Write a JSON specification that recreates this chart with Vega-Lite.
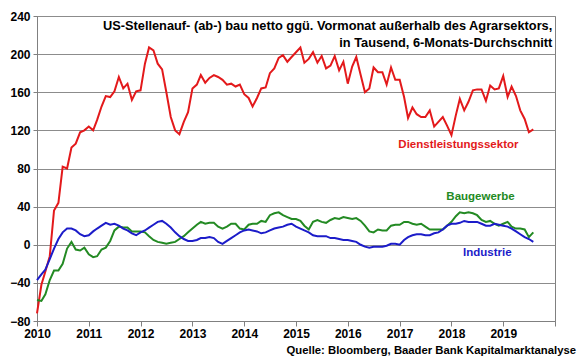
{
  "$schema": "https://vega.github.io/schema/vega-lite/v6.json",
  "autosize": "none",
  "width": 518,
  "height": 305,
  "padding": {"left": 37, "top": 16, "right": 25, "bottom": 38},
  "background": "white",
  "config": {
    "font": "Liberation Sans",
    "view": {"stroke": "#808080", "strokeWidth": 1},
    "axis": {"labelFont": "Liberation Sans", "labelFontSize": 12, "labelFontWeight": "bold", "labelColor": "#000000", "domainColor": "#808080", "tickColor": "#808080", "gridColor": "#8c8c8c", "gridWidth": 1, "title": null},
    "title": {"font": "Liberation Sans", "fontSize": 11.3, "fontWeight": "bold", "color": "#000000"}
  },
  "title": {"text": "Quelle: Bloomberg, Baader Bank Kapitalmarktanalyse", "orient": "bottom", "anchor": "end", "frame": "group", "dx": 21, "offset": 6},
  "datasets": {
    "series": [
      {"m":"2010-01","s":"D","v":-72},{"m":"2010-02","s":"D","v":-42},{"m":"2010-03","s":"D","v":-28},{"m":"2010-04","s":"D","v":-12},{"m":"2010-05","s":"D","v":36},{"m":"2010-06","s":"D","v":44},{"m":"2010-07","s":"D","v":82},{"m":"2010-08","s":"D","v":80},{"m":"2010-09","s":"D","v":102},{"m":"2010-10","s":"D","v":106},{"m":"2010-11","s":"D","v":118},{"m":"2010-12","s":"D","v":120},
      {"m":"2011-01","s":"D","v":124},{"m":"2011-02","s":"D","v":120},{"m":"2011-03","s":"D","v":131},{"m":"2011-04","s":"D","v":145},{"m":"2011-05","s":"D","v":156},{"m":"2011-06","s":"D","v":155},{"m":"2011-07","s":"D","v":161},{"m":"2011-08","s":"D","v":176},{"m":"2011-09","s":"D","v":164},{"m":"2011-10","s":"D","v":169},{"m":"2011-11","s":"D","v":152},{"m":"2011-12","s":"D","v":161},
      {"m":"2012-01","s":"D","v":162},{"m":"2012-02","s":"D","v":190},{"m":"2012-03","s":"D","v":207},{"m":"2012-04","s":"D","v":204},{"m":"2012-05","s":"D","v":190},{"m":"2012-06","s":"D","v":184},{"m":"2012-07","s":"D","v":160},{"m":"2012-08","s":"D","v":134},{"m":"2012-09","s":"D","v":120},{"m":"2012-10","s":"D","v":116},{"m":"2012-11","s":"D","v":129},{"m":"2012-12","s":"D","v":139},
      {"m":"2013-01","s":"D","v":164},{"m":"2013-02","s":"D","v":168},{"m":"2013-03","s":"D","v":178},{"m":"2013-04","s":"D","v":170},{"m":"2013-05","s":"D","v":175},{"m":"2013-06","s":"D","v":178},{"m":"2013-07","s":"D","v":176},{"m":"2013-08","s":"D","v":173},{"m":"2013-09","s":"D","v":168},{"m":"2013-10","s":"D","v":169},{"m":"2013-11","s":"D","v":166},{"m":"2013-12","s":"D","v":168},
      {"m":"2014-01","s":"D","v":158},{"m":"2014-02","s":"D","v":154},{"m":"2014-03","s":"D","v":145},{"m":"2014-04","s":"D","v":154},{"m":"2014-05","s":"D","v":164},{"m":"2014-06","s":"D","v":165},{"m":"2014-07","s":"D","v":180},{"m":"2014-08","s":"D","v":185},{"m":"2014-09","s":"D","v":196},{"m":"2014-10","s":"D","v":199},{"m":"2014-11","s":"D","v":192},{"m":"2014-12","s":"D","v":197},
      {"m":"2015-01","s":"D","v":202},{"m":"2015-02","s":"D","v":207},{"m":"2015-03","s":"D","v":191},{"m":"2015-04","s":"D","v":195},{"m":"2015-05","s":"D","v":202},{"m":"2015-06","s":"D","v":191},{"m":"2015-07","s":"D","v":198},{"m":"2015-08","s":"D","v":185},{"m":"2015-09","s":"D","v":188},{"m":"2015-10","s":"D","v":198},{"m":"2015-11","s":"D","v":183},{"m":"2015-12","s":"D","v":192},
      {"m":"2016-01","s":"D","v":169},{"m":"2016-02","s":"D","v":187},{"m":"2016-03","s":"D","v":197},{"m":"2016-04","s":"D","v":178},{"m":"2016-05","s":"D","v":160},{"m":"2016-06","s":"D","v":164},{"m":"2016-07","s":"D","v":186},{"m":"2016-08","s":"D","v":181},{"m":"2016-09","s":"D","v":181},{"m":"2016-10","s":"D","v":168},{"m":"2016-11","s":"D","v":186},{"m":"2016-12","s":"D","v":173},
      {"m":"2017-01","s":"D","v":173},{"m":"2017-02","s":"D","v":155},{"m":"2017-03","s":"D","v":133},{"m":"2017-04","s":"D","v":144},{"m":"2017-05","s":"D","v":137},{"m":"2017-06","s":"D","v":134},{"m":"2017-07","s":"D","v":134},{"m":"2017-08","s":"D","v":141},{"m":"2017-09","s":"D","v":124},{"m":"2017-10","s":"D","v":129},{"m":"2017-11","s":"D","v":134},{"m":"2017-12","s":"D","v":125},
      {"m":"2018-01","s":"D","v":115},{"m":"2018-02","s":"D","v":136},{"m":"2018-03","s":"D","v":153},{"m":"2018-04","s":"D","v":141},{"m":"2018-05","s":"D","v":150},{"m":"2018-06","s":"D","v":162},{"m":"2018-07","s":"D","v":163},{"m":"2018-08","s":"D","v":163},{"m":"2018-09","s":"D","v":151},{"m":"2018-10","s":"D","v":167},{"m":"2018-11","s":"D","v":163},{"m":"2018-12","s":"D","v":164},
      {"m":"2019-01","s":"D","v":177},{"m":"2019-02","s":"D","v":155},{"m":"2019-03","s":"D","v":166},{"m":"2019-04","s":"D","v":156},{"m":"2019-05","s":"D","v":141},{"m":"2019-06","s":"D","v":132},{"m":"2019-07","s":"D","v":118},{"m":"2019-08","s":"D","v":121},

      {"m":"2010-01","s":"B","v":-58},{"m":"2010-02","s":"B","v":-59},{"m":"2010-03","s":"B","v":-52},{"m":"2010-04","s":"B","v":-37},{"m":"2010-05","s":"B","v":-27},{"m":"2010-06","s":"B","v":-27},{"m":"2010-07","s":"B","v":-20},{"m":"2010-08","s":"B","v":-4},{"m":"2010-09","s":"B","v":3},{"m":"2010-10","s":"B","v":-5},{"m":"2010-11","s":"B","v":-6},{"m":"2010-12","s":"B","v":-3},
      {"m":"2011-01","s":"B","v":-10},{"m":"2011-02","s":"B","v":-13},{"m":"2011-03","s":"B","v":-12},{"m":"2011-04","s":"B","v":-5},{"m":"2011-05","s":"B","v":-3},{"m":"2011-06","s":"B","v":4},{"m":"2011-07","s":"B","v":15},{"m":"2011-08","s":"B","v":19},{"m":"2011-09","s":"B","v":18},{"m":"2011-10","s":"B","v":18},{"m":"2011-11","s":"B","v":14},{"m":"2011-12","s":"B","v":14},
      {"m":"2012-01","s":"B","v":14},{"m":"2012-02","s":"B","v":13},{"m":"2012-03","s":"B","v":9},{"m":"2012-04","s":"B","v":5},{"m":"2012-05","s":"B","v":3},{"m":"2012-06","s":"B","v":2},{"m":"2012-07","s":"B","v":1},{"m":"2012-08","s":"B","v":2},{"m":"2012-09","s":"B","v":3},{"m":"2012-10","s":"B","v":6},{"m":"2012-11","s":"B","v":9},{"m":"2012-12","s":"B","v":13},
      {"m":"2013-01","s":"B","v":17},{"m":"2013-02","s":"B","v":21},{"m":"2013-03","s":"B","v":24},{"m":"2013-04","s":"B","v":22},{"m":"2013-05","s":"B","v":23},{"m":"2013-06","s":"B","v":23},{"m":"2013-07","s":"B","v":19},{"m":"2013-08","s":"B","v":17},{"m":"2013-09","s":"B","v":19},{"m":"2013-10","s":"B","v":22},{"m":"2013-11","s":"B","v":22},{"m":"2013-12","s":"B","v":17},
      {"m":"2014-01","s":"B","v":16},{"m":"2014-02","s":"B","v":21},{"m":"2014-03","s":"B","v":22},{"m":"2014-04","s":"B","v":22},{"m":"2014-05","s":"B","v":25},{"m":"2014-06","s":"B","v":24},{"m":"2014-07","s":"B","v":31},{"m":"2014-08","s":"B","v":33},{"m":"2014-09","s":"B","v":34},{"m":"2014-10","s":"B","v":31},{"m":"2014-11","s":"B","v":29},{"m":"2014-12","s":"B","v":27},
      {"m":"2015-01","s":"B","v":27},{"m":"2015-02","s":"B","v":25},{"m":"2015-03","s":"B","v":20},{"m":"2015-04","s":"B","v":16},{"m":"2015-05","s":"B","v":24},{"m":"2015-06","s":"B","v":26},{"m":"2015-07","s":"B","v":24},{"m":"2015-08","s":"B","v":23},{"m":"2015-09","s":"B","v":26},{"m":"2015-10","s":"B","v":28},{"m":"2015-11","s":"B","v":27},{"m":"2015-12","s":"B","v":29},
      {"m":"2016-01","s":"B","v":28},{"m":"2016-02","s":"B","v":27},{"m":"2016-03","s":"B","v":28},{"m":"2016-04","s":"B","v":25},{"m":"2016-05","s":"B","v":20},{"m":"2016-06","s":"B","v":14},{"m":"2016-07","s":"B","v":13},{"m":"2016-08","s":"B","v":16},{"m":"2016-09","s":"B","v":15},{"m":"2016-10","s":"B","v":15},{"m":"2016-11","s":"B","v":20},{"m":"2016-12","s":"B","v":21},
      {"m":"2017-01","s":"B","v":21},{"m":"2017-02","s":"B","v":24},{"m":"2017-03","s":"B","v":24},{"m":"2017-04","s":"B","v":22},{"m":"2017-05","s":"B","v":21},{"m":"2017-06","s":"B","v":22},{"m":"2017-07","s":"B","v":19},{"m":"2017-08","s":"B","v":16},{"m":"2017-09","s":"B","v":16},{"m":"2017-10","s":"B","v":16},{"m":"2017-11","s":"B","v":16},{"m":"2017-12","s":"B","v":20},
      {"m":"2018-01","s":"B","v":24},{"m":"2018-02","s":"B","v":30},{"m":"2018-03","s":"B","v":34},{"m":"2018-04","s":"B","v":33},{"m":"2018-05","s":"B","v":34},{"m":"2018-06","s":"B","v":33},{"m":"2018-07","s":"B","v":31},{"m":"2018-08","s":"B","v":26},{"m":"2018-09","s":"B","v":24},{"m":"2018-10","s":"B","v":25},{"m":"2018-11","s":"B","v":22},{"m":"2018-12","s":"B","v":20},
      {"m":"2019-01","s":"B","v":22},{"m":"2019-02","s":"B","v":24},{"m":"2019-03","s":"B","v":19},{"m":"2019-04","s":"B","v":17},{"m":"2019-05","s":"B","v":17},{"m":"2019-06","s":"B","v":16},{"m":"2019-07","s":"B","v":8},{"m":"2019-08","s":"B","v":13},

      {"m":"2010-01","s":"I","v":-37},{"m":"2010-02","s":"I","v":-31},{"m":"2010-03","s":"I","v":-26},{"m":"2010-04","s":"I","v":-15},{"m":"2010-05","s":"I","v":-4},{"m":"2010-06","s":"I","v":6},{"m":"2010-07","s":"I","v":13},{"m":"2010-08","s":"I","v":17},{"m":"2010-09","s":"I","v":17},{"m":"2010-10","s":"I","v":15},{"m":"2010-11","s":"I","v":11},{"m":"2010-12","s":"I","v":9},
      {"m":"2011-01","s":"I","v":10},{"m":"2011-02","s":"I","v":14},{"m":"2011-03","s":"I","v":17},{"m":"2011-04","s":"I","v":20},{"m":"2011-05","s":"I","v":23},{"m":"2011-06","s":"I","v":21},{"m":"2011-07","s":"I","v":22},{"m":"2011-08","s":"I","v":20},{"m":"2011-09","s":"I","v":17},{"m":"2011-10","s":"I","v":15},{"m":"2011-11","s":"I","v":12},{"m":"2011-12","s":"I","v":10},
      {"m":"2012-01","s":"I","v":13},{"m":"2012-02","s":"I","v":15},{"m":"2012-03","s":"I","v":18},{"m":"2012-04","s":"I","v":21},{"m":"2012-05","s":"I","v":24},{"m":"2012-06","s":"I","v":25},{"m":"2012-07","s":"I","v":22},{"m":"2012-08","s":"I","v":18},{"m":"2012-09","s":"I","v":13},{"m":"2012-10","s":"I","v":9},{"m":"2012-11","s":"I","v":6},{"m":"2012-12","s":"I","v":4},
      {"m":"2013-01","s":"I","v":4},{"m":"2013-02","s":"I","v":5},{"m":"2013-03","s":"I","v":7},{"m":"2013-04","s":"I","v":7},{"m":"2013-05","s":"I","v":8},{"m":"2013-06","s":"I","v":7},{"m":"2013-07","s":"I","v":3},{"m":"2013-08","s":"I","v":1},{"m":"2013-09","s":"I","v":4},{"m":"2013-10","s":"I","v":7},{"m":"2013-11","s":"I","v":10},{"m":"2013-12","s":"I","v":13},
      {"m":"2014-01","s":"I","v":15},{"m":"2014-02","s":"I","v":16},{"m":"2014-03","s":"I","v":15},{"m":"2014-04","s":"I","v":14},{"m":"2014-05","s":"I","v":12},{"m":"2014-06","s":"I","v":13},{"m":"2014-07","s":"I","v":15},{"m":"2014-08","s":"I","v":17},{"m":"2014-09","s":"I","v":18},{"m":"2014-10","s":"I","v":19},{"m":"2014-11","s":"I","v":21},{"m":"2014-12","s":"I","v":22},
      {"m":"2015-01","s":"I","v":19},{"m":"2015-02","s":"I","v":17},{"m":"2015-03","s":"I","v":15},{"m":"2015-04","s":"I","v":13},{"m":"2015-05","s":"I","v":10},{"m":"2015-06","s":"I","v":9},{"m":"2015-07","s":"I","v":9},{"m":"2015-08","s":"I","v":9},{"m":"2015-09","s":"I","v":7},{"m":"2015-10","s":"I","v":7},{"m":"2015-11","s":"I","v":6},{"m":"2015-12","s":"I","v":5},
      {"m":"2016-01","s":"I","v":5},{"m":"2016-02","s":"I","v":4},{"m":"2016-03","s":"I","v":3},{"m":"2016-04","s":"I","v":0},{"m":"2016-05","s":"I","v":-2},{"m":"2016-06","s":"I","v":-3},{"m":"2016-07","s":"I","v":-2},{"m":"2016-08","s":"I","v":-2},{"m":"2016-09","s":"I","v":-2},{"m":"2016-10","s":"I","v":-1},{"m":"2016-11","s":"I","v":1},{"m":"2016-12","s":"I","v":1},
      {"m":"2017-01","s":"I","v":0},{"m":"2017-02","s":"I","v":5},{"m":"2017-03","s":"I","v":8},{"m":"2017-04","s":"I","v":10},{"m":"2017-05","s":"I","v":11},{"m":"2017-06","s":"I","v":11},{"m":"2017-07","s":"I","v":10},{"m":"2017-08","s":"I","v":10},{"m":"2017-09","s":"I","v":12},{"m":"2017-10","s":"I","v":13},{"m":"2017-11","s":"I","v":16},{"m":"2017-12","s":"I","v":20},
      {"m":"2018-01","s":"I","v":22},{"m":"2018-02","s":"I","v":22},{"m":"2018-03","s":"I","v":23},{"m":"2018-04","s":"I","v":25},{"m":"2018-05","s":"I","v":24},{"m":"2018-06","s":"I","v":24},{"m":"2018-07","s":"I","v":24},{"m":"2018-08","s":"I","v":22},{"m":"2018-09","s":"I","v":20},{"m":"2018-10","s":"I","v":20},{"m":"2018-11","s":"I","v":22},{"m":"2018-12","s":"I","v":21},
      {"m":"2019-01","s":"I","v":20},{"m":"2019-02","s":"I","v":19},{"m":"2019-03","s":"I","v":17},{"m":"2019-04","s":"I","v":14},{"m":"2019-05","s":"I","v":11},{"m":"2019-06","s":"I","v":8},{"m":"2019-07","s":"I","v":6},{"m":"2019-08","s":"I","v":3}
    ],
    "labels": [
      {"m":"2018-02-19","v":105,"s":"D","t":"Dienstleistungssektor"},
      {"m":"2018-07-25","v":50,"s":"B","t":"Baugewerbe"},
      {"m":"2018-09-11","v":-9,"s":"I","t":"Industrie"}
    ],
    "heading": [
      {"m":"2019-12-13","v":229,"t":"US-Stellenauf-  (ab-) bau netto ggü. Vormonat außerhalb des Agrarsektors,"},
      {"m":"2019-12-13","v":212,"t":"in Tausend, 6-Monats-Durchschnitt"}
    ]
  },
  "encoding": {
    "x": {"field": "m", "type": "temporal",
      "scale": {"type": "utc", "domain": [{"year": 2010, "month": 1, "date": 1, "utc": true}, {"year": 2020, "month": 1, "date": 1, "utc": true}]},
      "axis": {"grid": false, "tickCount": {"interval": "year", "step": 1}, "labelExpr": "utcFormat(datum.value, '%Y') == '2020' ? '' : utcFormat(datum.value, '%Y')", "tickSize": 5, "labelPadding": 2, "labelFlush": false, "labelOverlap": false}},
    "y": {"field": "v", "type": "quantitative",
      "scale": {"domain": [-80, 240], "nice": false},
      "axis": {"values": [-80, -40, 0, 40, 80, 120, 160, 200, 240], "format": "d", "grid": true, "tickSize": 4, "labelPadding": 3}}
  },
  "layer": [
    {
      "data": {"name": "series"},
      "mark": {"type": "line", "strokeWidth": 2},
      "encoding": {
        "color": {"field": "s", "type": "nominal", "scale": {"domain": ["D", "B", "I"], "range": ["#e3191b", "#238a23", "#1c1cc9"]}, "legend": null}
      }
    },
    {
      "data": {"name": "labels"},
      "mark": {"type": "text", "fontSize": 11.5, "fontWeight": "bold", "align": "center", "baseline": "middle"},
      "encoding": {
        "text": {"field": "t"},
        "color": {"field": "s", "type": "nominal", "legend": null}
      }
    },
    {
      "data": {"name": "heading"},
      "mark": {"type": "text", "fontSize": 12.8, "fontWeight": "bold", "align": "right", "baseline": "middle", "color": "#000000"},
      "encoding": {
        "text": {"field": "t"}
      }
    }
  ]
}
